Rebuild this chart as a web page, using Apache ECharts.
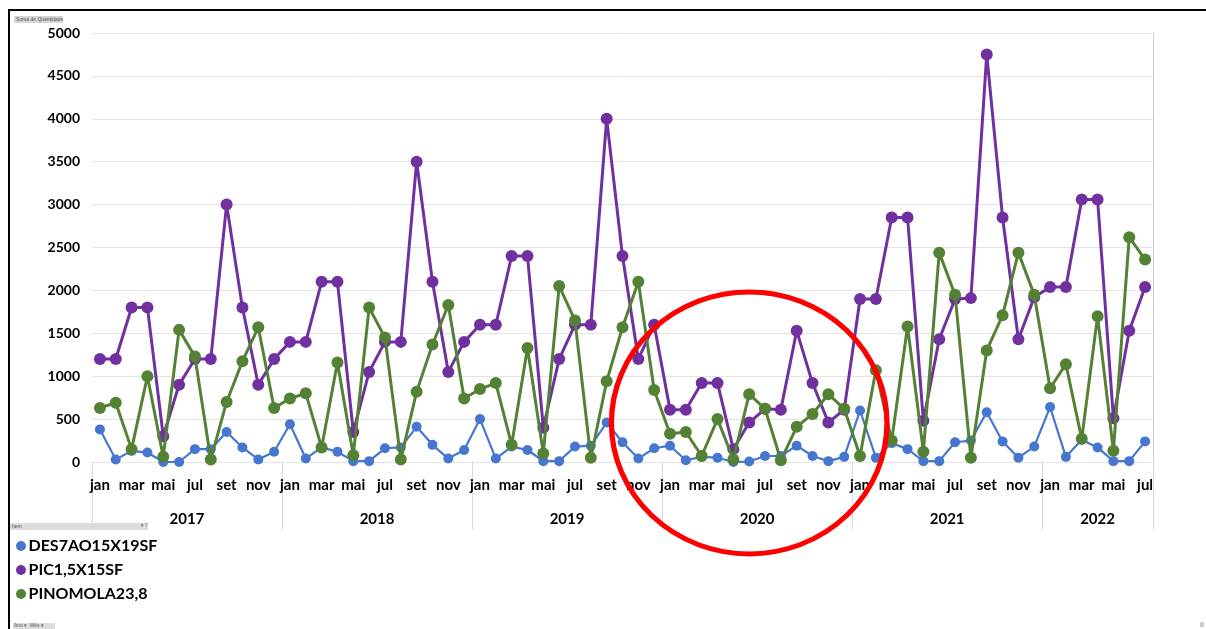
<!DOCTYPE html>
<html>
<head>
<meta charset="utf-8">
<script src="https://cdn.jsdelivr.net/npm/echarts@6/dist/echarts.min.js"></script>
<style>
html,body{margin:0;padding:0;background:#fff;}
#chart{width:1206px;height:629px;}
</style>
</head>
<body>
<div id="chart"></div>
<script>
const years = ['2017', '2018', '2019', '2020', '2021', '2022'];
const monthNames = ['jan','fev','mar','abr','mai','jun','jul','ago','set','out','nov','dez'];
const monthsLast = 7; // 2022 runs jan..jul

const seriesNames = ['DES7AO15X19SF', 'PIC1,5X15SF', 'PINOMOLA23,8'];

const des7ao = [
  380, 30, 130, 110, 0, 0, 150, 150, 350, 170, 30, 120,
  440, 40, 170, 120, 10, 10, 160, 170, 410, 200, 40, 140,
  500, 40, 180, 140, 10, 10, 180, 190, 460, 230, 40, 160,
  190, 20, 60, 50, 0, 5, 70, 70, 190, 70, 10, 60,
  600, 50, 220, 150, 10, 10, 230, 250, 580, 240, 50, 180,
  640, 60, 260, 170, 10, 10, 240
];
const pic = [
  1200, 1200, 1800, 1800, 300, 900, 1200, 1200, 3000, 1800, 900, 1200,
  1400, 1400, 2100, 2100, 350, 1050, 1400, 1400, 3500, 2100, 1050, 1400,
  1600, 1600, 2400, 2400, 400, 1200, 1600, 1600, 4000, 2400, 1200, 1600,
  610, 610, 920, 920, 150, 460, 620, 610, 1530, 920, 460, 610,
  1900, 1900, 2850, 2850, 480, 1430, 1900, 1910, 4750, 2850, 1430, 1920,
  2040, 2040, 3060, 3060, 510, 1530, 2040
];
const pinomola = [
  630, 690, 150, 1000, 60, 1540, 1230, 30, 700, 1175, 1570, 630,
  740, 800, 170, 1160, 80, 1800, 1450, 30, 820, 1370, 1830, 740,
  850, 920, 200, 1330, 100, 2050, 1650, 50, 940, 1570, 2100, 840,
  330, 350, 70, 500, 30, 790, 620, 20, 410, 560, 790, 620,
  70, 1070, 250, 1580, 120, 2440, 1950, 50, 1300, 1710, 2440, 1950,
  860, 1140, 270, 1700, 130, 2620, 2360
];

const yTicks = [0, 500, 1000, 1500, 2000, 2500, 3000, 3500, 4000, 4500, 5000];

// build category list
const categories = [];
years.forEach((y, yi) => {
  const n = (yi === years.length - 1) ? monthsLast : 12;
  for (let m = 0; m < n; m++) categories.push(monthNames[m]);
});
const N = categories.length;
const yearBounds = [];
const yearCenters = [];
{
  let start = 0;
  years.forEach((y, yi) => {
    const n = (yi === years.length - 1) ? monthsLast : 12;
    yearBounds.push(start - 0.5);
    yearCenters.push(start + (n - 1) / 2);
    start += n;
  });
  yearBounds.push(N - 0.5);
}

const FONT = 'Lato, "Open Sans", sans-serif';
const colors = ['#4677CF', '#7030A0', '#548235'];

const chart = echarts.init(document.getElementById('chart'), null, {renderer: 'canvas'});

function lineSeries(i, data, size, width, z) {
  return {
    name: seriesNames[i], type: 'line', data: data,
    color: colors[i],
    symbol: 'circle', symbolSize: size,
    showSymbol: true, showAllSymbol: true,
    lineStyle: {width: width, color: colors[i]},
    itemStyle: {color: colors[i]},
    z: z
  };
}

const option = {
  animation: false,
  backgroundColor: '#ffffff',
  grid: {left: 92, right: 53, top: 33, bottom: 167, containLabel: false},
  legend: {
    orient: 'vertical',
    left: 11,
    top: 533,
    itemGap: 8,
    itemWidth: 13,
    itemHeight: 10,
    icon: 'circle',
    data: seriesNames,
    textStyle: {fontFamily: FONT, fontWeight: 'bold', fontSize: 16, color: '#000', lineHeight: 16, padding: [0, 0, 0, -4]}
  },
  xAxis: [
    {
      type: 'category',
      data: categories,
      boundaryGap: true,
      axisLine: {show: false},
      axisTick: {show: false},
      axisLabel: {
        interval: 1,
        margin: 16,
        fontFamily: FONT, fontWeight: 'bold', fontSize: 15, color: '#000'
      },
      splitLine: {show: false}
    },
    {
      type: 'value',
      position: 'bottom',
      min: -0.5,
      max: N - 0.5,
      axisLine: {show: false},
      splitLine: {show: false},
      axisTick: {
        show: true,
        customValues: yearBounds,
        length: 68,
        lineStyle: {color: '#d9d9d9', width: 1}
      },
      axisLabel: {
        show: true,
        customValues: yearCenters,
        margin: 50,
        formatter: function (v) {
          const i = yearCenters.findIndex(c => Math.abs(c - v) < 0.01);
          return i >= 0 ? years[i] : '';
        },
        fontFamily: FONT, fontWeight: 'bold', fontSize: 15, color: '#000'
      }
    }
  ],
  yAxis: [
    {
      type: 'value',
      min: yTicks[0],
      max: yTicks[yTicks.length - 1],
      interval: yTicks[1] - yTicks[0],
      axisLine: {show: false},
      axisTick: {show: false},
      axisLabel: {
        margin: 12, fontFamily: FONT, fontWeight: 'bold', fontSize: 14, color: '#000',
        formatter: function (v) { return String(v); }
      },
      splitLine: {lineStyle: {color: '#e3e3e3', width: 1}}
    },
    {
      type: 'value',
      position: 'right',
      min: yTicks[0],
      max: yTicks[yTicks.length - 1],
      axisLine: {show: true, lineStyle: {color: '#c8d0dc', width: 1}},
      axisTick: {show: false},
      axisLabel: {show: false},
      splitLine: {show: false}
    }
  ],
  series: [
    lineSeries(0, des7ao, 10, 2.2, 2),
    lineSeries(1, pic, 12, 3, 3),
    lineSeries(2, pinomola, 12, 3, 4)
  ],
  graphic: [
    // outer frame
    {type: 'line', shape: {x1: 8, y1: 10, x2: 1206, y2: 10}, style: {stroke: '#000', lineWidth: 2}, z: 100},
    {type: 'line', shape: {x1: 9, y1: 10, x2: 9, y2: 629}, style: {stroke: '#000', lineWidth: 2}, z: 100},
    // field button top-left
    {type: 'rect', shape: {x: 14, y: 16, width: 49, height: 7}, style: {fill: '#d6d6d6'}, z: 100},
    {type: 'text', x: 16, y: 17, style: {text: 'Soma de Quantidade', font: '5px sans-serif', fill: '#555'}, z: 101},
    // legend field bar
    {type: 'rect', shape: {x: 10, y: 523, width: 138, height: 7}, style: {fill: '#dcdcdc'}, z: 100},
    {type: 'text', x: 12, y: 524, style: {text: 'Item', font: '5px sans-serif', fill: '#555'}, z: 101},
    {type: 'text', x: 141, y: 523, style: {text: '▾⊤', font: '5px sans-serif', fill: '#555'}, z: 101},
    // bottom field buttons
    {type: 'rect', shape: {x: 13, y: 623, width: 42, height: 6}, style: {fill: '#dcdcdc'}, z: 100},
    {type: 'text', x: 14, y: 623, style: {text: 'Ano ▾  Mês ▾', font: '5px sans-serif', fill: '#555'}, z: 101},
    // tiny mark bottom-right
    {type: 'rect', shape: {x: 1200, y: 622, width: 4, height: 5}, style: {fill: '#cccccc'}, z: 100}
  ]
};

chart.setOption(option);

// red highlight ellipse anchored to 2020 data region (jun 2020, ~455)
const idx2020 = (yearBounds[3] + 0.5) + 5; // jun 2020
const c = chart.convertToPixel({xAxisIndex: 0, yAxisIndex: 0}, [idx2020, 455]);
const p0 = chart.convertToPixel({xAxisIndex: 0, yAxisIndex: 0}, [0, 0]);
const p1 = chart.convertToPixel({xAxisIndex: 0, yAxisIndex: 0}, [1, 0]);
const step = p1[0] - p0[0];
const rx = step * 8.7;
const ry = 131;
chart.setOption({
  graphic: [{
    id: 'redEllipse',
    type: 'circle',
    x: c[0], y: c[1],
    scaleX: rx / ry, scaleY: 1,
    shape: {cx: 0, cy: 0, r: ry},
    style: {fill: 'none', stroke: '#FF0000', lineWidth: 5},
    z: 200
  }]
});
</script>
</body>
</html>
